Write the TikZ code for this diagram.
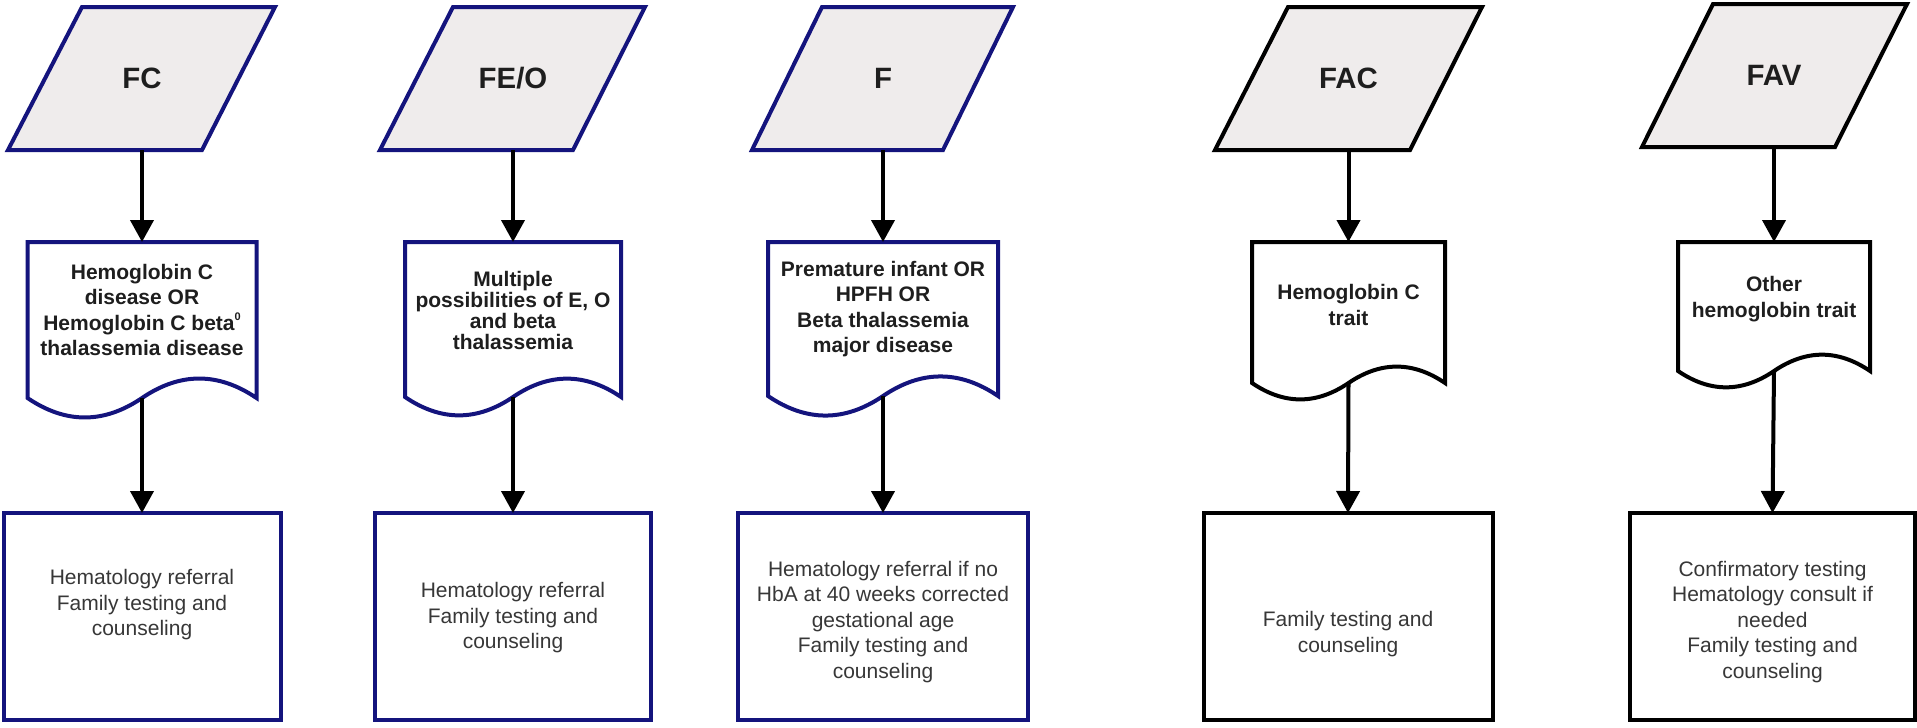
\documentclass[tikz,border=0pt]{standalone}
\usepackage{fontspec}
\setmainfont{Liberation Sans}
\usetikzlibrary{arrows.meta}
\definecolor{navy}{RGB}{20,20,125}
\definecolor{parafill}{RGB}{239,236,236}
\definecolor{boldtxt}{RGB}{30,30,30}
\definecolor{regtxt}{RGB}{55,55,55}
\def\px{0.5pt}
\newcommand{\docshape}[5]{%
 \pgfmathsetmacro\dW{#2-#1}%
 \pgfmathsetmacro\dM{(#1+#2)/2}%
 \pgfmathsetmacro\dA{0.085*\dW/0.75}%
 \pgfmathsetmacro\dH{\dW/2}%
 \draw[#5, fill=white] (#1,#3) -- (#2,#3) -- (#2,#4)
   .. controls ({#2-\dH/3},{#4-\dA}) and ({\dM+\dH/3},{#4-\dA}) .. (\dM,#4)
   .. controls ({\dM-\dH/3},{#4+\dA}) and ({#1+\dH/3},{#4+\dA}) .. (#1,#4) -- cycle;
}
\newcommand{\smallsup}[1]{\raisebox{0.85ex}{\fontsize{5.5}{5.5}\selectfont #1}}
\tikzset{
 blueline/.style={draw=navy, line width=2pt, line join=miter},
 blackline/.style={draw=black, line width=2pt, line join=miter},
 anchorbox/.style={draw=none, inner sep=0pt, outer sep=0pt, rectangle},
 paratext/.style={anchorbox, font=\fontsize{14.7}{17}\selectfont\bfseries, text=boldtxt},
 doctext/.style={font=\fontsize{10.5}{12.75}\selectfont\bfseries, text=boldtxt, align=center, inner sep=0pt},
 boxtext/.style={font=\fontsize{10.5}{12.75}\selectfont, text=regtxt, align=center, inner sep=0pt},
 resultbox/.style={rectangle, fill=white, line width=2pt, inner sep=0pt, outer sep=0pt, minimum height=207*\px},
 arr/.style={-{Triangle[width=11.5pt,length=11pt]}, line width=2pt, black},
}
\begin{document}
\begin{tikzpicture}[x=0.5pt,y=-0.5pt]
\useasboundingbox (0,0) rectangle (1917,728);
% ---------- parallelograms ----------
\draw[blueline, fill=parafill] (8,150) -- (202,150) -- (275,7) -- (82,7) -- cycle;
\draw[blueline, fill=parafill] (380,150) -- (573,150) -- (645,7) -- (453,7) -- cycle;
\draw[blueline, fill=parafill] (752,150) -- (943,150) -- (1013,7) -- (822,7) -- cycle;
\draw[blackline, fill=parafill] (1215,150) -- (1410,150) -- (1482,7) -- (1288,7) -- cycle;
\draw[blackline, fill=parafill] (1642,147) -- (1835,147) -- (1907,4) -- (1713,4) -- cycle;
\node[paratext, minimum width=120*\px, minimum height=143*\px] (p1) at (142,78.5) {FC};
\node[paratext, minimum width=120*\px, minimum height=143*\px] (p2) at (513,78.5) {FE/O};
\node[paratext, minimum width=120*\px, minimum height=143*\px] (p3) at (883,78.5) {F};
\node[paratext, minimum width=120*\px, minimum height=143*\px] (p4) at (1348.5,78.5) {FAC};
\node[paratext, minimum width=120*\px, minimum height=143*\px] (p5) at (1774,75.5) {FAV};
% ---------- documents ----------
\docshape{27.5}{256.5}{242}{398}{blueline}
\docshape{405}{621}{242}{397}{blueline}
\docshape{768}{998}{242}{396}{blueline}
\docshape{1252}{1445}{242}{383}{blackline}
\docshape{1678}{1870}{242}{371}{blackline}
\node[anchorbox, minimum width=229*\px, minimum height=156*\px] (d1) at (142,320) {};
\node[anchorbox, minimum width=216*\px, minimum height=155*\px] (d2) at (513,319.5) {};
\node[anchorbox, minimum width=230*\px, minimum height=154*\px] (d3) at (883,319) {};
\node[anchorbox, minimum width=193*\px, minimum height=141*\px] (d4) at (1348.5,312.5) {};
\node[anchorbox, minimum width=192*\px, minimum height=129*\px] (d5) at (1774,306.5) {};
\node[doctext] (d1t) at (142,310) {Hemoglobin C\\disease OR\\Hemoglobin C beta\smallsup{0}\\thalassemia disease};
\node[doctext, font=\fontsize{10.5}{10.5}\selectfont\bfseries] (d2t) at (513,310) {Multiple\\possibilities of E, O\\and beta\\thalassemia};
\node[doctext] (d3t) at (883,309) {Premature infant OR\\HPFH OR\\Beta thalassemia\\major disease};
\node[doctext] (d4t) at (1348.5,305) {Hemoglobin C\\trait};
\node[doctext] (d5t) at (1774,299) {Other\\hemoglobin trait};
% ---------- result boxes ----------
\node[resultbox, draw=navy, minimum width=277*\px] (b1) at (142,616.5) {};
\node[resultbox, draw=navy, minimum width=276*\px] (b2) at (513,616.5) {};
\node[resultbox, draw=navy, minimum width=290*\px] (b3) at (883,616.5) {};
\node[resultbox, draw=black, minimum width=289*\px] (b4) at (1348,616.5) {};
\node[resultbox, draw=black, minimum width=285*\px] (b5) at (1772.5,616.5) {};
\node[boxtext] (b1t) at (142,605) {Hematology referral\\Family testing and\\counseling};
\node[boxtext] (b2t) at (513,618) {Hematology referral\\Family testing and\\counseling};
\node[boxtext] (b3t) at (883,622) {Hematology referral if no\\HbA at 40 weeks corrected\\gestational age\\Family testing and\\counseling};
\node[boxtext] (b4t) at (1348,634) {Family testing and\\counseling};
\node[boxtext] (b5t) at (1772.5,622) {Confirmatory testing\\Hematology consult if\\needed\\Family testing and\\counseling};
% ---------- connectors ----------
\foreach \i in {1,...,5}{
  \draw[arr] (p\i.south) -- (d\i.north);
  \draw[arr] (d\i.south) -- (b\i.north);
}
\end{tikzpicture}
\end{document}
